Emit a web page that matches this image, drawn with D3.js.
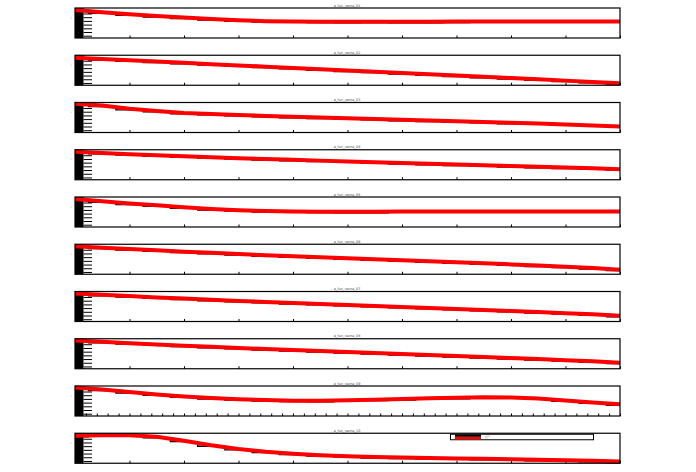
<!DOCTYPE html>
<html><head><meta charset="utf-8">
<script src="https://cdn.jsdelivr.net/npm/d3@7"></script>
<style>body{margin:0;background:#fff}svg{display:block}</style>
</head><body>
<script>
// ---- data ----
const xValues = [0,5,10,15,20,25,30,35,40,45,50,55,60,65,70,75,80,85,90,95,100];
const xMajorTicks = [0,10,20,30,40,50,60,70,80,90,100];
const xMinorTicks = [0,2,4,6,8,10,12,14,16,18,20,22,24,26,28,30,32,34,36,38,40,42,44,46,48,50,52,54,56,58,60,62,64,66,68,70,72,74,76,78,80,82,84,86,88,90,92,94,96,98,100];
const yTicks = [0,1,2,3,4,5,6,7];
const yDomain = [-0.62, 7.49];
const titles = ["a_fun_name_01","a_fun_name_02","a_fun_name_03","a_fun_name_04","a_fun_name_05",
                "a_fun_name_06","a_fun_name_07","a_fun_name_08","a_fun_name_09","a_fun_name_10"];
const legendLabels = ["data","fit"];

const s1  = [6.95,6.33,5.79,5.33,4.92,4.52,4.17,3.93,3.85,3.79,3.76,3.79,3.76,3.76,3.82,3.85,3.85,3.85,3.85,3.85,3.85];
const s2  = [6.81,6.46,6.11,5.79,5.44,5.09,4.74,4.41,4.06,3.71,3.36,3.04,2.68,2.36,2.01,1.66,1.31,0.98,0.63,0.28,-0.07];
const s3  = [7.14,6.68,5.79,5.20,4.66,4.39,4.12,3.85,3.63,3.44,3.22,3.04,2.82,2.63,2.41,2.23,2.01,1.82,1.55,1.28,1.01];
const s4  = [6.95,6.63,6.30,6.01,5.71,5.47,5.22,4.98,4.76,4.55,4.33,4.12,3.90,3.71,3.49,3.31,3.09,2.90,2.68,2.47,2.23];
const s5  = [6.95,6.33,5.73,5.25,4.71,4.25,3.93,3.71,3.58,3.52,3.49,3.49,3.58,3.58,3.58,3.58,3.58,3.58,3.58,3.58,3.58];
const s6  = [6.95,6.57,6.19,5.84,5.49,5.17,4.84,4.52,4.22,3.95,3.68,3.41,3.14,2.87,2.60,2.33,2.04,1.74,1.42,1.04,0.61];
const s7  = [6.95,6.60,6.25,5.90,5.57,5.25,4.95,4.66,4.38,4.12,3.85,3.58,3.31,3.04,2.77,2.50,2.23,1.93,1.63,1.31,0.93];
const s8  = [7.00,6.65,6.30,5.95,5.63,5.30,5.01,4.71,4.44,4.17,3.90,3.63,3.36,3.09,2.82,2.55,2.28,2.01,1.71,1.39,1.01];
const s9  = [7.09,6.55,5.87,5.20,4.66,4.25,3.93,3.71,3.52,3.49,3.63,3.79,3.98,4.17,4.30,4.44,4.39,4.12,3.58,3.04,2.55];
const s10 = [6.82,6.95,6.95,6.55,5.47,4.25,3.25,2.50,1.96,1.55,1.28,1.06,0.93,0.79,0.69,0.58,0.47,0.33,0.20,0.06,-0.15];
const allSeries = [s1,s2,s3,s4,s5,s6,s7,s8,s9,s10];

// ---- drawing ----
const W = 696, H = 472;
const svg = d3.select("body").append("svg").attr("width", W).attr("height", H);
svg.append("rect").attr("width", W).attr("height", H).attr("fill", "#fff");

const left = 75, right = 620, ph = 30, top0 = 8, step = 47.25;
const x = d3.scaleLinear().domain([0,100]).range([left, right]);

allSeries.forEach((vals, k) => {
  const top = top0 + step * k;
  const g = svg.append("g").attr("transform", `translate(0,${top})`);
  const y = d3.scaleLinear().domain(yDomain).range([ph, 0]);

  // title
  g.append("text").attr("x", 347).attr("y", -1.5).attr("text-anchor", "middle")
    .attr("font-family", "DejaVu Sans").attr("font-size", 3.4).attr("fill", "#444")
    .text(titles[k]);

  // dense y axis block
  g.append("rect").attr("x", left).attr("y", 0).attr("width", 8.5).attr("height", ph).attr("fill", "#000");
  const ya = g.append("g").attr("transform", `translate(${left + 8.5},0)`)
    .call(d3.axisRight(y).tickValues(yTicks).tickSize(8.5).tickFormat(""));
  ya.select(".domain").remove();
  ya.selectAll("line").attr("stroke", "#000").attr("stroke-width", 1);
  // tiny label
  g.append("text").attr("x", 70.5).attr("y", y(4.6)).attr("font-size", 2).attr("fill", "#999")
    .attr("font-family", "DejaVu Sans").text("1");

  // x ticks
  const xt = (k === 8) ? xMinorTicks : xMajorTicks;
  const xa = g.append("g").attr("transform", `translate(0,${ph})`)
    .call(d3.axisTop(x).tickValues(xt).tickSize(2.5).tickFormat(""));
  xa.select(".domain").remove();
  xa.selectAll("line").attr("stroke", "#000").attr("stroke-width", 1);

  const data = xValues.map((xv, i) => [xv, vals[i]]);
  // black step series
  g.append("path").datum(data).attr("fill", "none").attr("stroke", "#000").attr("stroke-width", 1.3)
    .attr("d", d3.line().x(d => x(d[0])).y(d => y(d[1]) + 1).curve(d3.curveStep));
  // red fit
  g.append("path").datum(data).attr("fill", "none").attr("stroke", "#ff0000").attr("stroke-width", 4)
    .attr("d", d3.line().x(d => x(d[0])).y(d => y(d[1])).curve(d3.curveLinear));

  // frame
  g.append("rect").attr("x", left).attr("y", 0).attr("width", right - left).attr("height", ph)
    .attr("fill", "none").attr("stroke", "#000").attr("stroke-width", 1.2);

  if (k === 9) {
    const lg = g.append("g");
    lg.append("rect").attr("x", 450.5).attr("y", 1).attr("width", 143).attr("height", 5.5)
      .attr("fill", "#fff").attr("stroke", "#000").attr("stroke-width", 1);
    lg.append("line").attr("x1", 455).attr("x2", 481).attr("y1", 2.4).attr("y2", 2.4)
      .attr("stroke", "#000").attr("stroke-width", 2.4);
    lg.append("line").attr("x1", 455).attr("x2", 481).attr("y1", 4.9).attr("y2", 4.9)
      .attr("stroke", "#ff0000").attr("stroke-width", 2.6);
    lg.append("text").attr("x", 485).attr("y", 3.3).attr("font-size", 2.2).attr("fill", "#999")
      .attr("font-family", "DejaVu Sans").text(legendLabels[0]);
    lg.append("text").attr("x", 485).attr("y", 5.9).attr("font-size", 2.2).attr("fill", "#999")
      .attr("font-family", "DejaVu Sans").text(legendLabels[1]);
  }
});
</script>
</body></html>
